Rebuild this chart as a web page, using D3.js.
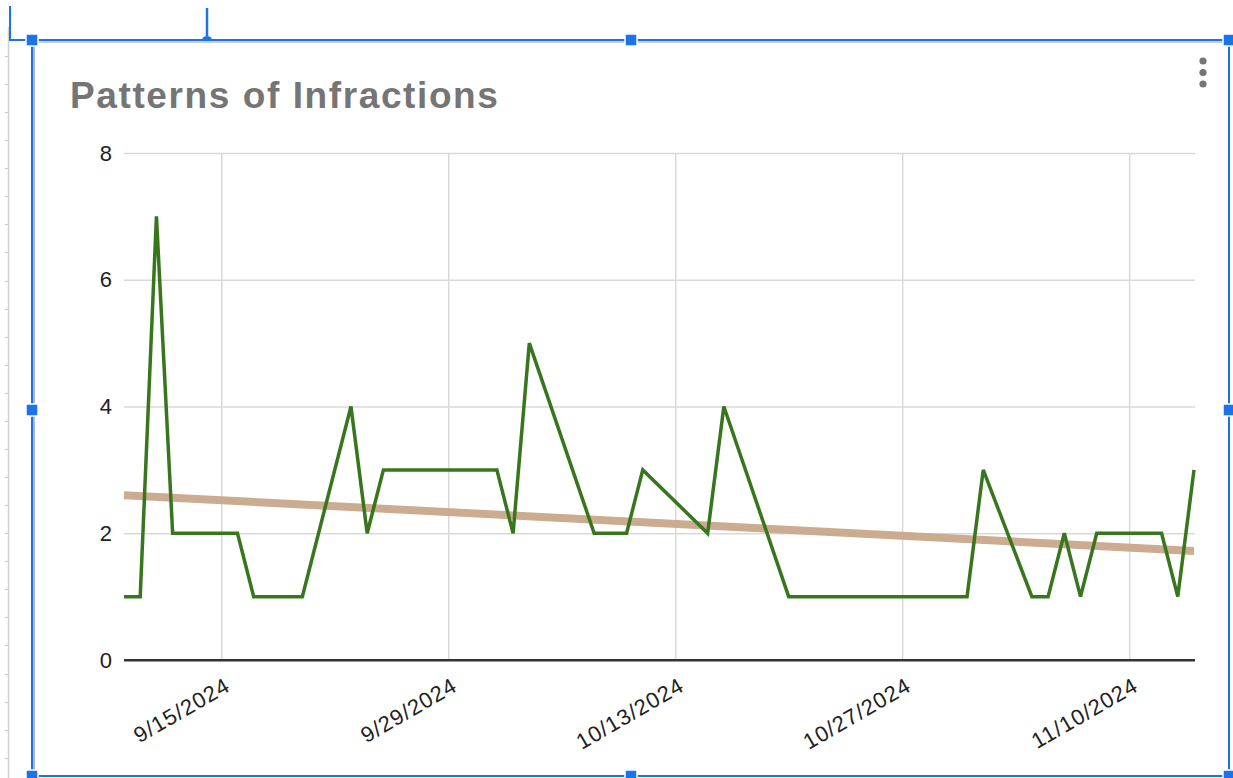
<!DOCTYPE html>
<html>
<head>
<meta charset="utf-8">
<script src="https://cdn.jsdelivr.net/npm/d3@7/dist/d3.min.js"></script>
<style>
  html, body { margin: 0; padding: 0; background: #fff; }
  svg { display: block; font-family: "Liberation Sans", Arial, sans-serif; }
</style>
</head>
<body>
<svg id="chart" width="1233" height="778"></svg>
<script>
// ---- Data ----
const title = "Patterns of Infractions";
const dates = ["2024-09-09","2024-09-10","2024-09-11","2024-09-12","2024-09-16","2024-09-17","2024-09-20",
  "2024-09-23","2024-09-24","2024-09-25","2024-10-02","2024-10-03","2024-10-04","2024-10-08","2024-10-10",
  "2024-10-11","2024-10-15","2024-10-16","2024-10-20","2024-10-31","2024-11-01","2024-11-04","2024-11-05",
  "2024-11-06","2024-11-07","2024-11-08","2024-11-12","2024-11-13","2024-11-14"];
const values = [1,1,7,2,2,1,1,4,2,3,3,2,5,2,2,3,2,4,1,1,3,1,1,2,1,2,2,1,3];
const xDomain = ["2024-09-09","2024-11-14"];
const xTickDates = ["2024-09-15","2024-09-29","2024-10-13","2024-10-27","2024-11-10"];
const xTickLabels = ["9/15/2024","9/29/2024","10/13/2024","10/27/2024","11/10/2024"];
const yTicks = [0,2,4,6,8];
const trendValues = [2.6, 1.72]; // trendline value at start and end of domain

const parse = d3.timeParse("%Y-%m-%d");
const svg = d3.select("#chart");

// ---- Sheets selection frame decorations ----
const deco = svg.append("g");
deco.append("line").attr("x1",8.5).attr("x2",8.5).attr("y1",27).attr("y2",778).attr("stroke","#d0d0d0").attr("stroke-width",1.5);
for (let y = 56; y < 778; y += 28.07) {
  deco.append("line").attr("x1",5).attr("x2",8).attr("y1",Math.round(y)+0.5).attr("y2",Math.round(y)+0.5).attr("stroke","#c8c8c8").attr("stroke-width",1);
}
deco.append("path").attr("d","M10,6 L10,40 L32,40").attr("fill","none").attr("stroke","#1a73e8").attr("stroke-width",2);
deco.append("line").attr("x1",207).attr("x2",207).attr("y1",8).attr("y2",36).attr("stroke","#1a73e8").attr("stroke-width",2.5);
deco.append("path").attr("d","M202,40 A5,4 0 0 1 212,40 Z").attr("fill","#1a73e8");
deco.append("line").attr("x1",32).attr("x2",1229).attr("y1",42).attr("y2",42).attr("stroke","#bdbdbd").attr("stroke-width",1.5);
deco.append("line").attr("x1",34).attr("x2",34).attr("y1",40).attr("y2",778).attr("stroke","#9e9e9e").attr("stroke-width",1.5);
deco.append("rect").attr("x",32).attr("y",40).attr("width",1197).attr("height",736)
  .attr("fill","none").attr("stroke","#1a73e8").attr("stroke-width",2);

// ---- Chart ----
const x = d3.scaleTime().domain(xDomain.map(parse)).range([124, 1194]);
const y = d3.scaleLinear().domain([0, 8]).range([660, 153]);

svg.append("text").attr("x",70).attr("y",108).text(title)
  .attr("font-size",37).attr("font-weight","bold").attr("fill","#757575").attr("letter-spacing",1.6);

const gy = svg.append("g").attr("transform","translate(124,0)")
  .call(d3.axisLeft(y).tickValues(yTicks).tickSize(-1071).tickFormat(d => d));
gy.select(".domain").remove();
gy.selectAll(".tick line").attr("stroke", d => d === 0 ? "#333" : "#d9d9d9").attr("stroke-width", d => d === 0 ? 2 : 1.5);
gy.selectAll(".tick text").attr("x",-12).attr("font-size",22).attr("fill","#222").attr("font-family","Liberation Sans, Arial, sans-serif");

const gx = svg.append("g").attr("transform","translate(0,660)")
  .call(d3.axisBottom(x).tickValues(xTickDates.map(parse)).tickSize(-507)
    .tickFormat((d,i) => xTickLabels[i]));
gx.select(".domain").remove();
gx.selectAll(".tick line").attr("stroke","#d9d9d9").attr("stroke-width",1.5);
gx.selectAll(".tick text").attr("font-size",22).attr("fill","#222")
  .attr("font-family","Liberation Sans, Arial, sans-serif").attr("letter-spacing",1)
  .attr("text-anchor","end").attr("dy",null).attr("y",null)
  .attr("transform","translate(10,30) rotate(-30)");
svg.append("line").attr("x1",124).attr("x2",1195).attr("y1",y(0)).attr("y2",y(0)).attr("stroke","#333").attr("stroke-width",2);

const tline = d3.line().x(d => x(d[0])).y(d => y(d[1]));
svg.append("path").datum([[parse(xDomain[0]), trendValues[0]],[parse(xDomain[1]), trendValues[1]]])
  .attr("d", tline).attr("fill","none").attr("stroke","#c8a88a").attr("stroke-width",8).attr("opacity",0.95);

const data = dates.map((d,i) => [parse(d), values[i]]);
svg.append("path").datum(data).attr("d", d3.line().x(d => x(d[0])).y(d => y(d[1])))
  .attr("fill","none").attr("stroke","#38761d").attr("stroke-width",3.5).attr("stroke-linejoin","miter");

[61,72.5,84].forEach(cy => svg.append("circle").attr("cx",1203).attr("cy",cy).attr("r",3.6).attr("fill","#757575"));

[[32,40],[631,40],[1229,40],[32,410],[1229,410],[32,776],[631,776],[1229,776]].forEach(([hx,hy]) => {
  svg.append("rect").attr("x",hx-6).attr("y",hy-6).attr("width",12).attr("height",12)
    .attr("fill","#1a73e8").attr("stroke","#fff").attr("stroke-width",1.5);
});
</script>
</body>
</html>
